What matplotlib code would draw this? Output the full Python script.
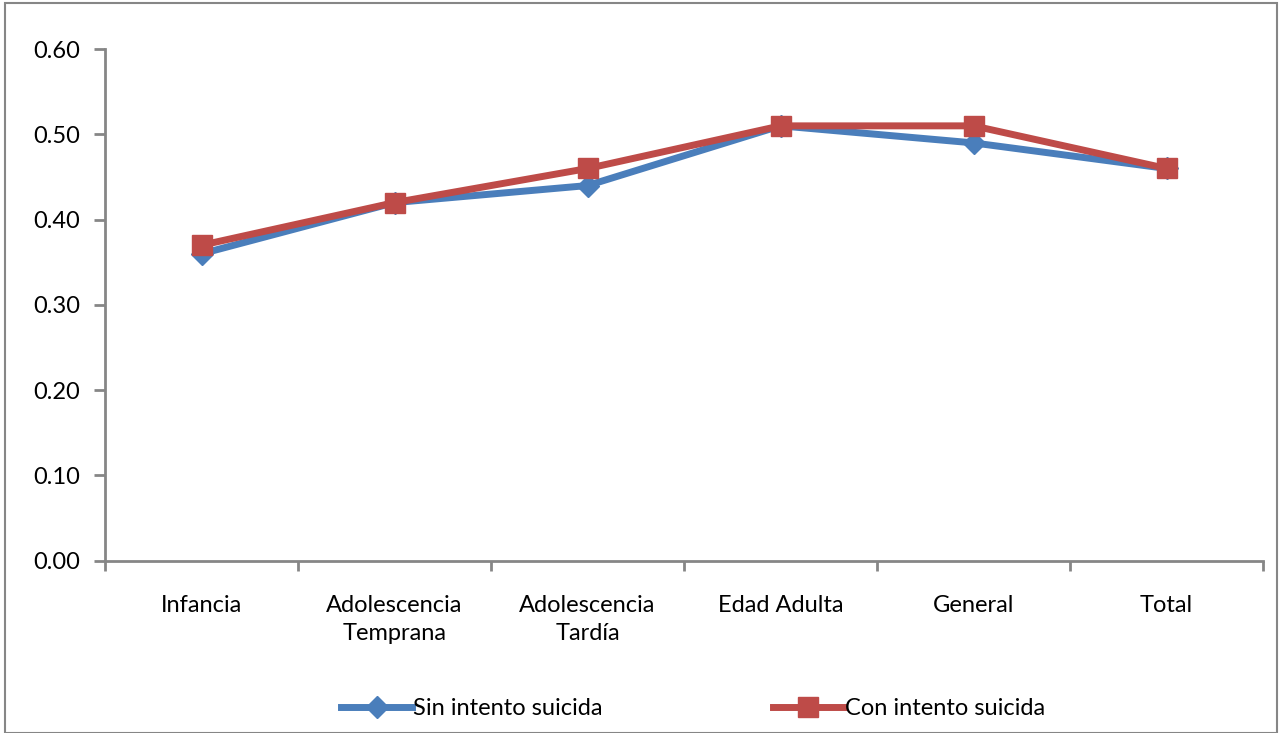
import numpy as np
import matplotlib.pyplot as plt
from matplotlib.patches import Rectangle

categorias = ["Infancia", "Adolescencia\nTemprana", "Adolescencia\nTardía", "Edad Adulta", "General", "Total"]
sin_intento = [0.36, 0.42, 0.44, 0.51, 0.49, 0.46]
con_intento = [0.37, 0.42, 0.46, 0.51, 0.51, 0.46]

plt.rcParams['font.family'] = ['Lato', 'DejaVu Sans']

fig = plt.figure(figsize=(12.81, 7.33), dpi=100)
ax = fig.add_axes([0.082, 0.235, 0.904, 0.698])

x = np.arange(len(categorias))
ax.plot(x, sin_intento, color='#4a7ebb', lw=5, marker='D', ms=11, label='Sin intento suicida')
ax.plot(x, con_intento, color='#be4b48', lw=5, marker='s', ms=15, label='Con intento suicida')

ax.set_xlim(-0.5, len(categorias) - 0.5)
ax.set_ylim(0, 0.6)
ax.set_yticks(np.arange(0, 0.61, 0.1))
ax.set_yticklabels(['%.2f' % v for v in np.arange(0, 0.61, 0.1)], fontsize=17)
ax.set_xticks(x)
ax.set_xticklabels(categorias, fontsize=17, linespacing=1.4)
ax.set_xticks(np.arange(-0.5, len(categorias), 1), minor=True)
ax.tick_params(axis='x', which='major', length=0, pad=25)
ax.tick_params(axis='x', which='minor', length=7, width=2, color='#868686')
ax.tick_params(axis='y', length=8, width=2, color='#868686', pad=10)

for s in ['top', 'right']:
    ax.spines[s].set_visible(False)
for s in ['left', 'bottom']:
    ax.spines[s].set_color('#868686')
    ax.spines[s].set_linewidth(2)

fig.legend(loc='lower center', bbox_to_anchor=(0.541, -0.01), ncol=2, frameon=False,
           fontsize=17, columnspacing=7.2, handlelength=3, handletextpad=0.05)

fig.patches.append(Rectangle((0.004, 0.0), 0.993, 0.996, transform=fig.transFigure,
                             fill=False, edgecolor='#868686', lw=1.5))

fig.savefig('out.png', dpi=100)
